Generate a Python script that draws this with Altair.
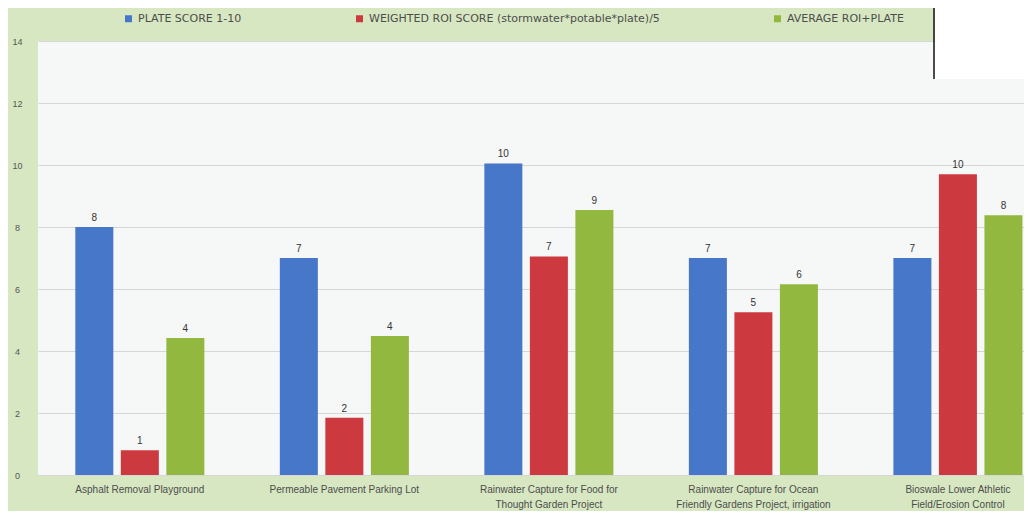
import altair as alt
import pandas as pd

categories = [
    "Asphalt Removal Playground",
    "Permeable Pavement Parking Lot",
    "Rainwater Capture for Food for\nThought Garden Project",
    "Rainwater Capture for Ocean\nFriendly Gardens Project, irrigation",
    "Bioswale Lower Athletic\nField/Erosion Control",
]
series = [
    "PLATE SCORE 1-10",
    "WEIGHTED ROI SCORE (stormwater*potable*plate)/5",
    "AVERAGE ROI+PLATE",
]
plate_score = [8.0, 7.0, 10.05, 7.0, 7.0]
weighted_roi = [0.8, 1.85, 7.05, 5.25, 9.7]
average_roi_plate = [4.42, 4.48, 8.55, 6.15, 8.38]
y_ticks = [0, 2, 4, 6, 8, 10, 12, 14]
colors = ["#4677c8", "#cc3a3f", "#93b83f"]

rows = []
for i, cat in enumerate(categories):
    for s, vals in zip(series, [plate_score, weighted_roi, average_roi_plate]):
        rows.append({"category": cat, "series": s, "value": vals[i],
                     "label": str(int(round(vals[i])))})
df = pd.DataFrame(rows)

FONT = "Liberation Sans"

x_enc = alt.X(
    "category:N", sort=categories,
    scale=alt.Scale(paddingInner=0.369, paddingOuter=0.095, align=0.96, round=False),
    axis=alt.Axis(title=None, labelAngle=0, labelExpr="split(datum.label, '\\n')",
                  labelFontSize=10, labelColor="#4d4d4d", labelLineHeight=15,
                  domain=False, ticks=False, tickSize=0, labelPadding=9,
                  labelLimit=300, labelFont=FONT, labelBaseline="top"),
)
xoff_enc = alt.XOffset("series:N", sort=series,
                       scale=alt.Scale(domain=series, paddingInner=0.165, paddingOuter=0))
y_enc = alt.Y(
    "value:Q",
    scale=alt.Scale(domain=[0, 14], nice=False),
    axis=alt.Axis(values=y_ticks, title=None, grid=True, gridColor="#d6d6d6",
                  domain=False, ticks=False, tickSize=0, labelPadding=21,
                  labelAlign="center", labelFontSize=9, labelColor="#555555",
                  labelFont=FONT),
)

base = alt.Chart(df)

bars = base.mark_bar().encode(
    x=x_enc, xOffset=xoff_enc, y=y_enc,
    color=alt.Color(
        "series:N", sort=series,
        scale=alt.Scale(domain=series, range=colors),
        legend=alt.Legend(title=None, orient="none", direction="horizontal",
                          legendX=85, legendY=-28, symbolType="square",
                          symbolSize=49, symbolStrokeWidth=0, labelFontSize=11,
                          labelColor="#4d4d4d", labelFont="DejaVu Sans",
                          columnPadding=112, labelLimit=500),
    ),
)

labels = base.mark_text(dy=-9, fontSize=10, color="#333333", font=FONT).encode(
    x=x_enc, xOffset=xoff_enc, y=y_enc, text="label:N",
)

box_df = pd.DataFrame({"k": [0]})
box = alt.Chart(box_df).mark_rect(color="#ffffff").encode(
    x=alt.value(897), x2=alt.value(990), y=alt.value(-33), y2=alt.value(38)
)
box_line = alt.Chart(box_df).mark_rule(color="#111111", strokeWidth=1.5).encode(
    x=alt.value(896), y=alt.value(-33), y2=alt.value(38)
)

chart = alt.layer(bars, labels, box, box_line).properties(
    width=986, height=434,
    autosize=alt.AutoSizeParams(type="none"),
    padding={"left": 30, "top": 33, "right": 0, "bottom": 36},
    background="#d7e7c1",
).configure_view(fill="#f6f7f7", stroke=None)

chart.save("out.html", embed_options={"renderer": "svg", "actions": False})
